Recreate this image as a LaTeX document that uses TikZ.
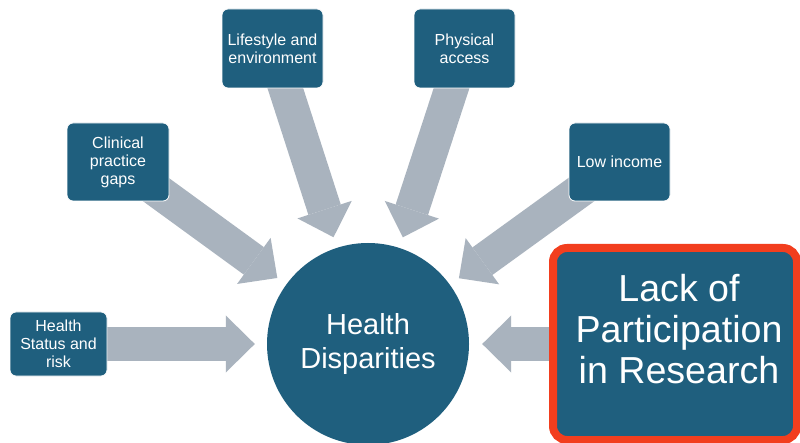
\documentclass[tikz,border=0pt]{standalone}
\usepackage{fontspec}
\setmainfont{Liberation Sans}
\usetikzlibrary{arrows.meta,backgrounds}
\definecolor{boxblue}{HTML}{1F5F7E}
\definecolor{arrowgray}{HTML}{A9B3BE}
\definecolor{alertred}{HTML}{F23E1E}
\begin{document}
\begin{tikzpicture}[x=1pt,y=-1pt,
  factor/.style={draw=white, line width=0.8pt, fill=boxblue, rounded corners=6pt,
    text=white, align=center, minimum width=101pt, minimum height=78pt,
    inner sep=0pt, font=\fontsize{16}{18}\selectfont},
  hub/.style={circle, fill=boxblue, minimum size=202pt, inner sep=0pt,
    text=white, align=center, font=\fontsize{29}{34}\selectfont},
  keybox/.style={rectangle, draw=alertred, line width=8pt, fill=boxblue,
    rounded corners=14pt, minimum width=244pt, minimum height=192pt, inner sep=0pt},
  keytext/.style={text=white, align=center, inner sep=0pt,
    font=\fontsize{37.6}{41}\selectfont},
  feed/.style={draw=arrowgray, line width=34pt,
    -{Triangle[length=29pt,width=57pt,line width=0pt,fill=arrowgray]}},
]
\useasboundingbox (0,0) rectangle (800,443);

% central hub
\node[hub] (hd) at (368,344) {Health\\Disparities};

% contributing factors
\node[factor, minimum width=97pt, minimum height=64pt] (hs) at (58.5,344) {Health\\Status and\\risk};
\node[factor, minimum width=102pt] (cp) at (118,162) {Clinical\\practice\\gaps};
\node[factor, minimum height=79pt] (le) at (272.5,48.5) {Lifestyle and\\environment};
\node[factor, minimum height=79pt] (pa) at (464.5,48.5) {Physical\\access};
\node[factor] (li) at (619.5,162) {Low income};

% highlighted factor
\node[keybox] (lack) at (675,344) {};
\node[keytext] (lacklbl) at (679,329) {Lack of\\Participation\\in Research};

% block arrows pointing into the hub
\begin{scope}[on background layer]
  \fill[white] (0,0) rectangle (800,443);
  \draw[feed, shorten >=12pt] (hs.center) -- (hd);
  \draw[feed, shorten >=11pt] (cp.center) -- (hd);
  \draw[feed, shorten >=11pt] (le.center) -- (hd);
  \draw[feed, shorten >=11pt] (pa.center) -- (hd);
  \draw[feed, shorten >=11pt] (li.center) -- (hd);
  \draw[feed, shorten >=13pt] (lack.center) -- (hd);
\end{scope}
\end{tikzpicture}
\end{document}
